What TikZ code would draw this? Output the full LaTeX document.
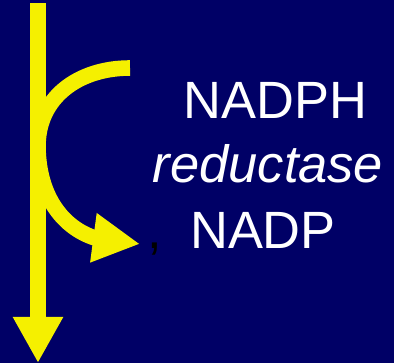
\documentclass[tikz,border=0pt]{standalone}
\usepackage{fontspec}
\setmainfont{Liberation Sans}
\usetikzlibrary{arrows.meta}
\definecolor{slidebg}{RGB}{0,0,102}
\definecolor{flowyellow}{RGB}{245,240,0}
\begin{document}
\begin{tikzpicture}[x=0.025cm,y=-0.025cm]
\tikzstyle{txt}=[text=white,inner sep=0pt,anchor=base,font=\fontsize{37.3}{44}\selectfont]
\tikzstyle{flow}=[draw=flowyellow,line width=0.39cm]
\fill [slidebg] (0,0) rectangle (394,363);
\useasboundingbox (0,0) rectangle (394,363);
\coordinate (top) at (38,3);
\coordinate (bottom) at (38,363);
\coordinate (cstart) at (130,68);
\coordinate (bend) at (38,148);
\coordinate (cend) at (95,238);
\coordinate (tip) at (140,244);
\node [txt] (nadph) at (275.5,118) {NADPH};
\node [txt,font=\fontsize{37.3}{44}\selectfont\itshape] (enzyme) at (268,182) {reductase};
\node [txt] (nadp) at (263,248) {NADP};
\node [txt,text=black,anchor=base west] (comma) at (147.5,248) {,};
\draw [flow,-{Triangle[length=1.15cm,width=1.175cm]}] (top) -- (bottom);
\draw [flow,-{Triangle[length=1.175cm,width=1.16cm]}] (cstart) .. controls (78,68) and (37,98) .. (bend)
  .. controls (39,198) and (64,228) .. (cend) -- (tip);
\end{tikzpicture}
\end{document}
